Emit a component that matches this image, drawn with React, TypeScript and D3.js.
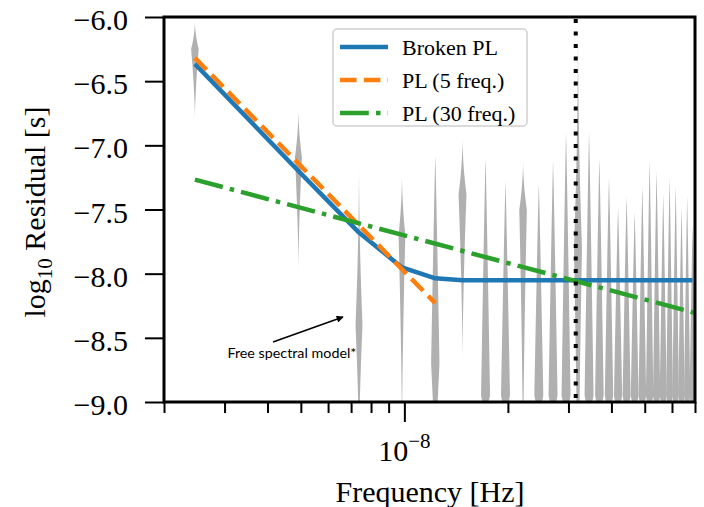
import React, { useEffect, useRef } from "react";
import * as d3 from "d3";

// harmonics of 1/T (nHz)
const freqs = [
  2.46, 4.92, 7.38, 9.84, 12.3, 14.76, 17.22, 19.68, 22.14, 24.6, 27.06, 29.52,
  31.98, 34.44, 36.9, 39.36, 41.82, 44.28, 46.74, 49.2, 51.66, 54.12, 56.58,
  59.04, 61.5, 63.96, 66.42, 68.88,
];
// violin outlines, log10 residual
const vTop = [
  -6.02, -6.7, -7.08, -7.2, -7.08, -6.92, -7.1, -7.28, -7.1, -7.3, -7.12, -6.9,
  -6.02, -6.9, -7.1, -7.25, -7.48, -7.4, -7.52, -7.32, -7.12, -7.2, -7.38,
  -7.25, -7.32, -7.48, -7.4, -7.62,
];
const vPeak = [
  -6.25, -7.09, -8.4, -7.7, -8.7, -7.38, -8.95, -8.95, -7.5, -8.95, -8.95, -8.95,
  -7.8, -8.95, -8.95, -8.95, -8.95, -8.95, -8.95, -8.95, -8.95, -8.95, -8.95,
  -8.95, -8.95, -8.95, -8.95, -8.95,
];
const vBottom = [
  -6.8, -7.98, -9.4, -9.3, -9.5, -8.7, -9.15, -9.15, -9.6, -9.15, -9.15, -9.15,
  -10.5, -9.15, -9.15, -9.15, -9.15, -9.15, -9.15, -9.15, -9.15, -9.15, -9.15,
  -9.15, -9.15, -9.15, -9.15, -9.15,
];
const vWidth = [
  3.8, 3.5, 3.5, 3.4, 4.2, 4, 4.5, 4.5, 3.8, 4.5, 4.5, 4.5, 4, 4.5, 4.3, 4.2,
  4.1, 4, 3.9, 3.8, 3.7, 3.6, 3.5, 3.4, 3.3, 3.2, 3.1, 3,
];

const brokenF = [2.46, 4.92, 7.38, 9.84, 12.3, 14.76, 68.88];
const brokenV = [-6.365, -7.2, -7.68, -7.951, -8.036, -8.052, -8.052];
const pl5F = [2.46, 12.3];
const pl5V = [-6.319, -8.23];
const pl30F = [2.46, 73.8];
const pl30V = [-7.267, -8.322];
const oneYear = 31.5; // nHz

const yTicks = [-6.0, -6.5, -7.0, -7.5, -8.0, -8.5, -9.0];
const minorTicks = [2, 3, 4, 5, 6, 7, 8, 9, 20, 30, 40, 50, 60, 70];

const legendItems = [
  { label: "Broken PL", color: "#1f77b4", dash: null },
  { label: "PL (5 freq.)", color: "#ff7f0e", dash: "16.6 7.2" },
  { label: "PL (30 freq.)", color: "#2ca02c", dash: "28.8 7.2 4.5 7.2" },
];

const serif = "'Liberation Serif', 'Times New Roman', serif";

function App() {
  const svgRef = useRef<SVGSVGElement>(null);

  useEffect(() => {
    const svg = d3.select(svgRef.current);
    svg.selectAll("*").remove();

    const left = 164, right = 695, top = 17, bottom = 402;
    const x = d3.scaleLog().domain([2, 70]).range([left, right]);
    const y = d3.scaleLinear().domain([-9, -6]).range([bottom, top]);

    svg
      .append("defs")
      .append("clipPath")
      .attr("id", "plotclip")
      .append("rect")
      .attr("x", left)
      .attr("y", top)
      .attr("width", right - left)
      .attr("height", bottom - top);

    const plot = svg.append("g").attr("clip-path", "url(#plotclip)");

    // violins
    const area = d3
      .area<{ v: number; w: number }>()
      .y((d) => y(d.v))
      .x0((d) => -d.w)
      .x1((d) => d.w)
      .curve(d3.curveBasis);

    freqs.forEach((f, i) => {
      const upperLimit = vPeak[i] < -8.5;
      const eUp = upperLimit ? 0.9 : 2;
      const eDown = upperLimit ? 1.2 : 1.6;
      const pts: { v: number; w: number }[] = [];
      const n = 40;
      for (let j = 0; j <= n; j++) {
        const t = j / n;
        pts.push({ v: vTop[i] + (vPeak[i] - vTop[i]) * t, w: vWidth[i] * Math.pow(t, eUp) });
      }
      for (let j = 1; j <= n; j++) {
        const t = 1 - j / n;
        pts.push({ v: vPeak[i] + (vBottom[i] - vPeak[i]) * (j / n), w: vWidth[i] * Math.pow(t, eDown) });
      }
      plot
        .append("path")
        .attr("transform", `translate(${x(f)},0)`)
        .attr("d", area(pts))
        .attr("fill", "#b0b0b0");
    });

    const line = d3
      .line<[number, number]>()
      .x((d) => x(d[0]))
      .y((d) => y(d[1]));

    const addLine = (fs: number[], vs: number[], color: string, dash: string | null) => {
      plot
        .append("path")
        .attr("d", line(fs.map((f, i) => [f, vs[i]] as [number, number])))
        .attr("fill", "none")
        .attr("stroke", color)
        .attr("stroke-width", 4.5)
        .attr("stroke-dasharray", dash)
        .attr("stroke-linejoin", "round");
    };
    addLine(brokenF, brokenV, "#1f77b4", null);
    addLine(pl5F, pl5V, "#ff7f0e", "16.6 7.2");
    addLine(pl30F, pl30V, "#2ca02c", "28.8 7.2 4.5 7.2");

    // 1/yr
    plot
      .append("line")
      .attr("x1", x(oneYear))
      .attr("x2", x(oneYear))
      .attr("y1", top + 2)
      .attr("y2", bottom)
      .attr("stroke", "#000")
      .attr("stroke-width", 4)
      .attr("stroke-dasharray", "4 8.5");

    // annotation
    svg
      .append("defs")
      .append("marker")
      .attr("id", "arrowhead")
      .attr("viewBox", "0 0 10 10")
      .attr("refX", 9)
      .attr("refY", 5)
      .attr("markerWidth", 9)
      .attr("markerHeight", 7)
      .attr("markerUnits", "userSpaceOnUse")
      .attr("orient", "auto")
      .append("path")
      .attr("d", "M0,0 L10,5 L0,10 z")
      .attr("fill", "#000");
    svg
      .append("line")
      .attr("x1", x(4.15))
      .attr("y1", y(-8.533))
      .attr("x2", x(6.63))
      .attr("y2", y(-8.338))
      .attr("stroke", "#000")
      .attr("stroke-width", 1.5)
      .attr("marker-end", "url(#arrowhead)");
    svg
      .append("text")
      .attr("x", x(4.71))
      .attr("y", y(-8.66))
      .attr("text-anchor", "middle")
      .attr("font-family", "Lato, 'Open Sans', sans-serif")
      .attr("font-size", 14.3)
      .text("Free spectral model*");

    // x axis
    const xMinor = d3.axisBottom(x).tickValues(minorTicks).tickSize(11).tickFormat(() => "");
    const gx1 = svg.append("g").attr("transform", `translate(0,${bottom})`).call(xMinor);
    const xMajor = d3.axisBottom(x).tickValues([10]).tickSize(20).tickFormat(() => "");
    const gx2 = svg.append("g").attr("transform", `translate(0,${bottom})`).call(xMajor);
    [gx1, gx2].forEach((g) => {
      g.select(".domain").remove();
      g.selectAll("line").attr("stroke", "#000").attr("stroke-width", 2);
    });
    const lab = svg
      .append("text")
      .attr("x", x(10))
      .attr("y", 461)
      .attr("text-anchor", "middle")
      .attr("font-family", serif)
      .attr("font-size", 30);
    lab.append("tspan").text("10");
    lab.append("tspan").attr("font-size", 21).attr("dy", -13).text("−8");

    // y axis
    const yAxis = d3
      .axisLeft(y)
      .tickValues(yTicks)
      .tickSize(19)
      .tickPadding(17)
      .tickFormat((d) => d3.format(".1f")(d as number).replace("-", "−"));
    const gy = svg.append("g").attr("transform", `translate(${left},0)`).call(yAxis);
    gy.select(".domain").remove();
    gy.selectAll("line").attr("stroke", "#000").attr("stroke-width", 2);
    gy.selectAll("text")
      .attr("font-family", serif)
      .attr("font-size", 30)
      .attr("fill", "#000")
      .attr("dy", "0.42em");

    // frame
    svg
      .append("rect")
      .attr("x", left)
      .attr("y", top)
      .attr("width", right - left)
      .attr("height", bottom - top)
      .attr("fill", "none")
      .attr("stroke", "#000")
      .attr("stroke-width", 3);

    // axis labels
    svg
      .append("text")
      .attr("x", 430)
      .attr("y", 502)
      .attr("text-anchor", "middle")
      .attr("font-family", serif)
      .attr("font-size", 30)
      .text("Frequency [Hz]");
    const yl = svg
      .append("text")
      .attr("transform", "translate(45,212) rotate(-90)")
      .attr("text-anchor", "middle")
      .attr("font-family", serif)
      .attr("font-size", 30);
    yl.append("tspan").text("log");
    yl.append("tspan").attr("font-size", 21).attr("dy", 7).text("10");
    yl.append("tspan").attr("dy", -7).text(" Residual [s]");

    // legend
    const lg = svg.append("g");
    lg.append("rect")
      .attr("x", 333)
      .attr("y", 29)
      .attr("width", 194)
      .attr("height", 97)
      .attr("rx", 4)
      .attr("fill", "#fff")
      .attr("fill-opacity", 0.8)
      .attr("stroke", "#d0d0d0")
      .attr("stroke-width", 1.5);
    legendItems.forEach((it, i) => {
      const ly = 47 + i * 33;
      lg.append("line")
        .attr("x1", 340)
        .attr("x2", 388)
        .attr("y1", ly)
        .attr("y2", ly)
        .attr("stroke", it.color)
        .attr("stroke-width", 4.5)
        .attr("stroke-dasharray", it.dash);
      lg.append("text")
        .attr("x", 402)
        .attr("y", ly)
        .attr("dy", "0.35em")
        .attr("font-family", serif)
        .attr("font-size", 22)
        .text(it.label);
    });
  }, []);

  return (
    <div>
      <svg
        ref={svgRef}
        width={704}
        height={507}
        style={{ position: "absolute", left: 0, top: 0, background: "#fff" }}
      />
    </div>
  );
}

export default App;
